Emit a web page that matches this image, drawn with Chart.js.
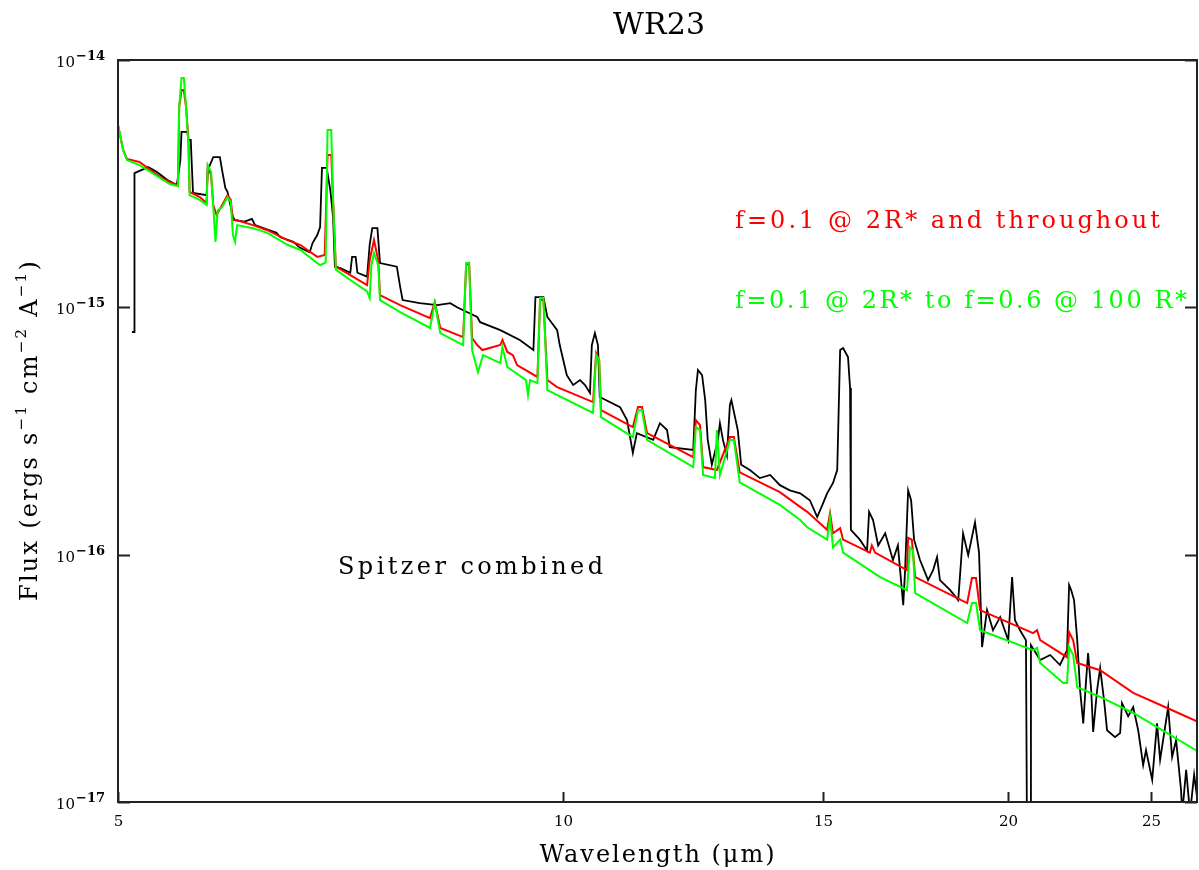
<!DOCTYPE html>
<html>
<head>
<meta charset="utf-8">
<title>WR23</title>
<script src="https://cdn.jsdelivr.net/npm/chart.js@4.4.1/dist/chart.umd.min.js"></script>
<style>
  html, body { margin: 0; padding: 0; background: #fff; }
  #wrap { width: 1199px; height: 870px; }
</style>
</head>
<body>
<div id="wrap"><canvas id="spec" width="1199" height="870"></canvas></div>
<script>
// Spitzer combined spectrum (black)
const obsWave = [5.11, 5.13, 5.13, 5.24, 5.31, 5.40, 5.48, 5.51, 5.52, 5.57, 5.58, 5.60, 5.61, 5.62, 5.74, 5.75, 5.80, 5.86, 5.88, 5.91,
  5.93, 5.98, 6.00, 6.09, 6.16, 6.19, 6.40, 6.44, 6.57, 6.64, 6.74, 6.77, 6.82, 6.85, 6.87, 6.92, 6.96, 6.99, 7.01, 7.07,
  7.18, 7.20, 7.24, 7.26, 7.37, 7.40, 7.43, 7.49, 7.52, 7.72, 7.76, 7.79, 8.00, 8.22, 8.39, 8.48, 8.61, 8.75, 8.79, 9.07,
  9.35, 9.55, 9.58, 9.70, 9.76, 9.91, 9.95, 10.06, 10.16, 10.27, 10.35, 10.43, 10.46, 10.51, 10.56, 10.59, 10.93, 11.05, 11.15, 11.22,
  11.51, 11.63, 11.76, 11.81, 12.25, 12.30, 12.34, 12.42, 12.48, 12.53, 12.61, 12.73, 12.77, 12.83, 12.91, 12.97, 13.00, 13.13, 13.20, 13.38,
  13.59, 13.81, 14.02, 14.24, 14.47, 14.69, 14.86, 14.98, 15.09, 15.23, 15.33, 15.40, 15.47, 15.59, 15.64, 15.66, 15.88, 16.06, 16.11, 16.21,
  16.34, 16.52, 16.72, 16.85, 16.99, 17.04, 17.12, 17.20, 17.28, 17.44, 17.66, 17.80, 17.91, 17.99, 18.28, 18.51, 18.65, 18.80, 19.00, 19.12,
  19.21, 19.36, 19.54, 19.76, 20.01, 20.13, 20.22, 20.38, 20.57, 20.61, 20.70, 20.73, 21.03, 21.36, 21.69, 21.93, 22.00, 22.07, 22.17, 22.28,
  22.38, 22.49, 22.59, 22.66, 22.77, 22.84, 22.98, 23.09, 23.23, 23.34, 23.63, 23.82, 23.89, 24.12, 24.31, 24.50, 24.69, 24.80, 25.04, 25.23,
  25.35, 25.67, 25.83, 25.99, 26.19, 26.24, 26.40, 26.56, 26.73, 26.94];
const obsFlux = [7.95e-16, 7.95e-16, 3.49e-15, 3.69e-15, 3.53e-15, 3.27e-15, 3.12e-15, 3.94e-15, 5.12e-15, 5.12e-15, 4.75e-15, 4.75e-15, 3.69e-15, 2.90e-15, 2.84e-15, 3.59e-15, 4.05e-15, 4.05e-15, 3.59e-15, 3.04e-15,
  2.93e-15, 2.32e-15, 2.25e-15, 2.22e-15, 2.28e-15, 2.15e-15, 2.00e-15, 1.92e-15, 1.84e-15, 1.74e-15, 1.67e-15, 1.82e-15, 1.96e-15, 2.11e-15, 3.66e-15, 3.66e-15, 2.98e-15, 2.32e-15, 1.46e-15, 1.44e-15,
  1.38e-15, 1.60e-15, 1.60e-15, 1.38e-15, 1.33e-15, 1.79e-15, 2.09e-15, 2.09e-15, 1.51e-15, 1.46e-15, 1.21e-15, 1.07e-15, 1.04e-15, 1.02e-15, 1.04e-15, 1.00e-15, 9.57e-16, 9.14e-16, 8.71e-16, 8.09e-16,
  7.38e-16, 6.72e-16, 1.10e-15, 1.10e-15, 9.14e-16, 8.09e-16, 7.04e-16, 5.32e-16, 4.85e-16, 5.08e-16, 4.85e-16, 4.50e-16, 7.04e-16, 7.87e-16, 7.04e-16, 4.34e-16, 3.95e-16, 3.50e-16, 2.58e-16, 3.10e-16,
  2.91e-16, 3.40e-16, 3.19e-16, 2.72e-16, 2.65e-16, 4.63e-16, 5.58e-16, 5.32e-16, 4.22e-16, 2.91e-16, 2.31e-16, 2.91e-16, 3.40e-16, 2.91e-16, 2.52e-16, 4.03e-16, 4.22e-16, 3.19e-16, 2.31e-16, 2.20e-16,
  2.04e-16, 2.10e-16, 1.91e-16, 1.82e-16, 1.77e-16, 1.66e-16, 1.42e-16, 1.59e-16, 1.77e-16, 1.95e-16, 2.20e-16, 6.72e-16, 6.85e-16, 6.30e-16, 4.72e-16, 1.26e-16, 1.15e-16, 1.04e-16, 1.49e-16, 1.38e-16,
  1.09e-16, 1.22e-16, 9.51e-17, 1.09e-16, 6.25e-17, 8.66e-17, 1.82e-16, 1.66e-16, 1.15e-16, 9.51e-17, 7.89e-17, 8.66e-17, 9.78e-17, 7.89e-17, 7.19e-17, 6.55e-17, 1.22e-16, 9.96e-17, 1.35e-16, 1.02e-16,
  4.23e-17, 5.97e-17, 4.95e-17, 5.59e-17, 4.51e-17, 8.12e-17, 5.44e-17, 4.95e-17, 4.51e-17, 5.0e-18, 5.0e-18, 4.31e-17, 3.75e-17, 3.93e-17, 3.58e-17, 4.11e-17, 7.54e-17, 7.19e-17, 6.55e-17, 4.51e-17,
  2.83e-17, 2.08e-17, 3.11e-17, 4.00e-17, 2.83e-17, 1.92e-17, 2.83e-17, 3.48e-17, 2.58e-17, 1.95e-17, 1.83e-17, 1.90e-17, 2.51e-17, 2.22e-17, 2.42e-17, 1.95e-17, 1.41e-17, 1.62e-17, 1.23e-17, 2.08e-17,
  1.48e-17, 2.42e-17, 1.52e-17, 1.78e-17, 1.12e-17, 9.0e-18, 1.35e-17, 9.0e-18, 1.29e-17, 9.0e-18];

// model: f=0.1 @ 2R* and throughout (red)
const modelAWave = [5.00, 5.04, 5.07, 5.17, 5.26, 5.34, 5.42, 5.48, 5.49, 5.50, 5.52, 5.54, 5.56, 5.58, 5.59, 5.68, 5.74, 5.75, 5.78, 5.80,
  5.83, 5.88, 5.93, 5.96, 5.98, 6.02, 6.17, 6.31, 6.51, 6.64, 6.82, 6.90, 6.93, 6.97, 6.99, 7.02, 7.18, 7.37, 7.40, 7.45,
  7.50, 7.52, 7.76, 8.13, 8.19, 8.26, 8.56, 8.60, 8.64, 8.68, 8.75, 8.82, 9.07, 9.10, 9.17, 9.25, 9.31, 9.61, 9.65, 9.70,
  9.76, 9.91, 10.48, 10.53, 10.58, 10.61, 11.15, 11.24, 11.31, 11.40, 12.25, 12.30, 12.38, 12.44, 12.71, 12.97, 13.05, 13.17, 14.02, 14.47,
  14.63, 15.09, 15.16, 15.23, 15.40, 15.47, 16.13, 16.18, 16.26, 17.09, 17.12, 17.22, 17.31, 18.77, 18.91, 19.03, 19.15, 20.80, 20.93, 21.03,
  21.93, 22.00, 22.14, 22.28, 23.09, 24.31, 25.63, 26.94];
const modelAFlux = [5.46e-15, 4.33e-15, 3.98e-15, 3.87e-15, 3.59e-15, 3.36e-15, 3.21e-15, 3.12e-15, 3.12e-15, 6.46e-15, 7.56e-15, 7.56e-15, 6.40e-15, 4.75e-15, 2.93e-15, 2.79e-15, 2.64e-15, 3.69e-15, 3.43e-15, 2.59e-15,
  2.36e-15, 2.59e-15, 2.84e-15, 2.72e-15, 2.25e-15, 2.25e-15, 2.15e-15, 2.05e-15, 1.87e-15, 1.79e-15, 1.60e-15, 1.63e-15, 4.13e-15, 4.13e-15, 2.72e-15, 1.46e-15, 1.35e-15, 1.23e-15, 1.55e-15, 1.87e-15,
  1.55e-15, 1.12e-15, 1.02e-15, 9.05e-16, 1.05e-15, 8.25e-16, 7.58e-16, 1.48e-15, 1.51e-15, 7.51e-16, 7.04e-16, 6.72e-16, 7.04e-16, 7.38e-16, 6.60e-16, 6.41e-16, 5.84e-16, 5.23e-16, 1.07e-15, 1.07e-15,
  5.08e-16, 4.76e-16, 4.14e-16, 6.53e-16, 6.12e-16, 3.84e-16, 3.28e-16, 3.95e-16, 3.95e-16, 3.10e-16, 2.48e-16, 3.50e-16, 3.34e-16, 2.26e-16, 2.20e-16, 2.99e-16, 2.99e-16, 2.15e-16, 1.79e-16, 1.56e-16,
  1.49e-16, 1.26e-16, 1.47e-16, 1.22e-16, 1.28e-16, 1.15e-16, 1.02e-16, 1.09e-16, 1.02e-16, 8.66e-17, 1.17e-16, 1.15e-16, 8.12e-17, 6.37e-17, 8.04e-17, 8.04e-17, 5.97e-17, 4.82e-17, 4.95e-17, 4.51e-17,
  3.85e-17, 4.86e-17, 4.51e-17, 3.65e-17, 3.41e-17, 2.76e-17, 2.40e-17, 2.10e-17];

// model: f=0.1 @ 2R* to f=0.6 @ 100 R* (green)
const modelBWave = [5.00, 5.04, 5.07, 5.17, 5.26, 5.34, 5.42, 5.49, 5.50, 5.52, 5.54, 5.56, 5.58, 5.59, 5.68, 5.74, 5.75, 5.78, 5.82, 5.84,
  5.88, 5.93, 5.96, 5.98, 6.00, 6.02, 6.17, 6.31, 6.51, 6.64, 6.85, 6.91, 6.93, 6.97, 6.99, 7.02, 7.18, 7.37, 7.40, 7.42,
  7.45, 7.50, 7.52, 7.76, 8.13, 8.19, 8.26, 8.56, 8.60, 8.64, 8.68, 8.76, 8.83, 9.07, 9.10, 9.17, 9.44, 9.47, 9.50, 9.61,
  9.65, 9.70, 9.76, 10.48, 10.53, 10.58, 10.61, 11.15, 11.24, 11.31, 11.40, 12.25, 12.30, 12.38, 12.44, 12.67, 12.71, 12.77, 12.97, 13.05,
  13.17, 14.02, 14.47, 14.63, 15.09, 15.16, 15.23, 15.40, 15.47, 16.39, 17.09, 17.17, 17.25, 17.31, 18.77, 18.91, 19.03, 19.15, 20.80, 20.93,
  21.03, 21.80, 21.93, 22.00, 22.14, 22.28, 23.09, 24.31, 25.63, 26.94];
const modelBFlux = [5.46e-15, 4.33e-15, 3.94e-15, 3.76e-15, 3.53e-15, 3.33e-15, 3.15e-15, 3.09e-15, 6.46e-15, 8.46e-15, 8.46e-15, 6.40e-15, 4.53e-15, 2.84e-15, 2.72e-15, 2.59e-15, 3.76e-15, 3.53e-15, 1.84e-15, 2.47e-15,
  2.54e-15, 2.79e-15, 2.67e-15, 1.96e-15, 1.84e-15, 2.15e-15, 2.09e-15, 2.00e-15, 1.79e-15, 1.71e-15, 1.48e-15, 1.52e-15, 5.21e-15, 5.21e-15, 2.72e-15, 1.42e-15, 1.29e-15, 1.16e-15, 1.09e-15, 1.48e-15,
  1.66e-15, 1.48e-15, 1.07e-15, 9.57e-16, 8.25e-16, 1.04e-15, 7.87e-16, 7.04e-16, 1.51e-15, 1.51e-15, 6.72e-16, 5.47e-16, 6.41e-16, 5.95e-16, 6.91e-16, 5.74e-16, 5.08e-16, 4.42e-16, 5.08e-16, 4.94e-16,
  1.09e-15, 1.09e-15, 4.63e-16, 3.74e-16, 6.41e-16, 6.12e-16, 3.60e-16, 2.99e-16, 3.84e-16, 3.84e-16, 2.91e-16, 2.26e-16, 3.28e-16, 3.19e-16, 2.10e-16, 2.04e-16, 3.19e-16, 2.10e-16, 2.91e-16, 2.91e-16,
  1.96e-16, 1.59e-16, 1.38e-16, 1.29e-16, 1.15e-16, 1.41e-16, 1.07e-16, 1.15e-16, 1.02e-16, 8.12e-17, 7.19e-17, 1.07e-16, 1.04e-16, 6.99e-17, 5.29e-17, 6.37e-17, 6.37e-17, 4.95e-17, 4.11e-17, 4.20e-17,
  3.65e-17, 3.03e-17, 3.03e-17, 4.23e-17, 3.93e-17, 2.91e-17, 2.66e-17, 2.29e-17, 1.90e-17, 1.59e-17];

// axis ticks
const xTickValues = [5, 10, 15, 20, 25];
const yTickValues = [1e-17, 1e-16, 1e-15, 1e-14];

const SERIF = '"DejaVu Serif", "Liberation Serif", serif';

// text with letter spacing so it spans a given width
function spacedText(ctx, text, x, y, width, align) {
  ctx.letterSpacing = '0px';
  const w = ctx.measureText(text).width;
  const gap = text.length > 1 ? (width - w) / (text.length - 1) : 0;
  ctx.letterSpacing = gap + 'px';
  ctx.textAlign = 'left';
  ctx.fillText(text, align === 'center' ? x - width / 2 : x, y);
  ctx.letterSpacing = '0px';
}

function yTitle(ctx) {
  const parts = [['Flux (ergs s', false], ['\u22121', true], [' cm', false], ['\u22122', true], [' A', false], ['\u22121', true], [')', false]];
  const big = '24px ' + SERIF, small = '15px ' + SERIF;
  const target = 342;
  ctx.save();
  ctx.translate(37, 430);
  ctx.rotate(-Math.PI / 2);
  ctx.letterSpacing = '0px';
  let raw = 0, chars = 0;
  parts.forEach(([t, sup]) => { ctx.font = sup ? small : big; raw += ctx.measureText(t).width; chars += t.length; });
  const gap = (target - raw) / chars;
  let x = -target / 2;
  ctx.textAlign = 'left';
  parts.forEach(([t, sup]) => {
    ctx.font = sup ? small : big;
    ctx.letterSpacing = '0px';
    const w = ctx.measureText(t).width;
    ctx.letterSpacing = gap + 'px';
    ctx.fillText(t, x, sup ? -11 : 0);
    x += w + gap * t.length;
  });
  ctx.letterSpacing = '0px';
  ctx.restore();
}

// frame, inward ticks, tick labels and texts
const decor = {
  id: 'decor',
  afterDraw(chart) {
    const { ctx, chartArea: a, scales: { x, y } } = chart;
    ctx.save();
    ctx.strokeStyle = '#222';
    ctx.lineWidth = 2;
    ctx.strokeRect(a.left, a.top, a.right - a.left, a.bottom - a.top);

    ctx.fillStyle = '#000';
    ctx.textBaseline = 'alphabetic';
    xTickValues.forEach(v => {
      const px = Math.round(x.getPixelForValue(v)) + 0.5;
      ctx.beginPath();
      ctx.moveTo(px, a.bottom);
      ctx.lineTo(px, a.bottom - 10);
      ctx.stroke();
      ctx.font = '15px ' + SERIF;
      ctx.textAlign = 'center';
      ctx.fillText(String(v), px, a.bottom + 24);
    });

    yTickValues.forEach(v => {
      const py = Math.round(y.getPixelForValue(v)) + 0.5;
      ctx.beginPath();
      ctx.moveTo(a.left, py);
      ctx.lineTo(a.left + 12, py);
      ctx.moveTo(a.right - 12, py);
      ctx.lineTo(a.right, py);
      ctx.stroke();
      const exp = '\u2212' + Math.abs(Math.round(Math.log10(v)));
      ctx.textAlign = 'right';
      ctx.font = 'bold 13px ' + SERIF;
      ctx.fillText(exp, 105, py - 1);
      const ew = ctx.measureText(exp).width;
      ctx.font = '15px ' + SERIF;
      ctx.fillText('10', 105 - ew - 1, py + 6);
    });

    ctx.font = '30px ' + SERIF;
    spacedText(ctx, 'WR23', 659, 34, 92, 'center');

    ctx.font = '24px ' + SERIF;
    spacedText(ctx, 'Wavelength (\u03bcm)', 657, 862, 235, 'center');
    spacedText(ctx, 'Spitzer combined', 338, 574, 265, 'left');
    ctx.fillStyle = '#ff0000';
    spacedText(ctx, 'f=0.1 @ 2R* and throughout', 735, 228, 425, 'left');
    ctx.fillStyle = '#00ff00';
    spacedText(ctx, 'f=0.1 @ 2R* to f=0.6 @ 100 R*', 735, 308, 452, 'left');

    ctx.fillStyle = '#000';
    yTitle(ctx);
    ctx.restore();
  }
};

const toPoints = (w, f) => w.map((v, i) => ({ x: v, y: f[i] }));

new Chart(document.getElementById('spec'), {
  type: 'line',
  data: {
    datasets: [
      { label: 'f=0.1 @ 2R* to f=0.6 @ 100 R*', data: toPoints(modelBWave, modelBFlux), borderColor: '#00ff00', borderWidth: 2, order: 0 },
      { label: 'f=0.1 @ 2R* and throughout', data: toPoints(modelAWave, modelAFlux), borderColor: '#ff0000', borderWidth: 2, order: 1 },
      { label: 'Spitzer combined', data: toPoints(obsWave, obsFlux), borderColor: '#000000', borderWidth: 1.8, order: 2 }
    ]
  },
  options: {
    responsive: false,
    animation: false,
    devicePixelRatio: 1,
    elements: { point: { radius: 0 }, line: { tension: 0, fill: false } },
    layout: { padding: { top: 60, right: 2, left: 0, bottom: 0 } },
    plugins: { legend: { display: false }, tooltip: { enabled: false } },
    scales: {
      x: {
        type: 'logarithmic', min: 5, max: 26.85,
        grid: { display: false }, border: { display: false }, ticks: { display: false },
        afterFit: s => { s.height = 68; }
      },
      y: {
        type: 'logarithmic', min: 1e-17, max: 1e-14,
        grid: { display: false }, border: { display: false }, ticks: { display: false },
        afterFit: s => { s.width = 118; }
      }
    }
  },
  plugins: [decor]
});
</script>
</body>
</html>
